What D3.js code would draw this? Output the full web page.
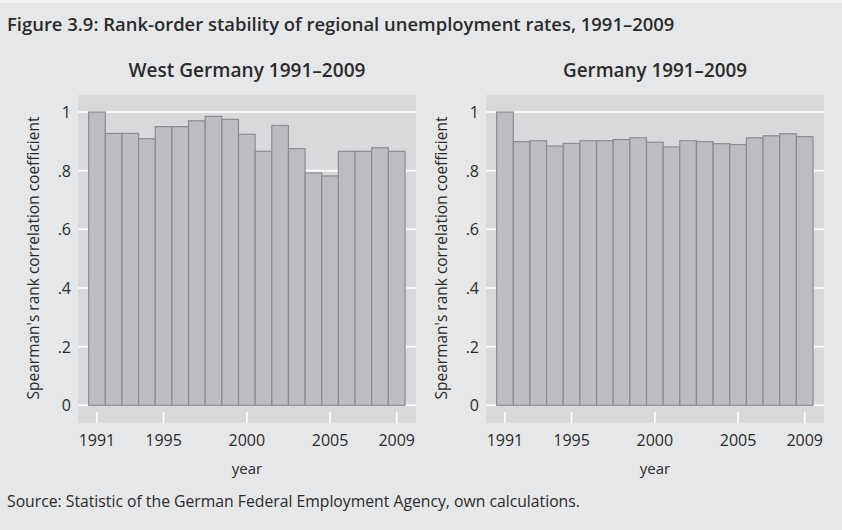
<!DOCTYPE html>
<html><head><meta charset="utf-8">
<script src="https://cdn.jsdelivr.net/npm/d3@7"></script>
<style>
html,body{margin:0;padding:0;background:#e6e7e8;}
svg{display:block;}
text{font-family:"Open Sans",Lato,sans-serif;fill:#2b2b2b;}
</style></head>
<body>
<script>
const years = d3.range(1991, 2010);
const westValues = [1.0,0.927,0.927,0.909,0.950,0.950,0.970,0.985,0.975,0.924,0.866,0.954,0.875,0.792,0.782,0.866,0.866,0.878,0.866];
const germanyValues = [1.0,0.899,0.902,0.884,0.893,0.902,0.902,0.906,0.912,0.897,0.881,0.902,0.899,0.892,0.889,0.912,0.919,0.926,0.916];
const panelTitles = ["West Germany 1991\u20132009","Germany 1991\u20132009"];
const yTicks = [0,0.2,0.4,0.6,0.8,1];
const yTickLabels = ["0",".2",".4",".6",".8","1"];
const xTicks = [1991,1995,2000,2005,2009];
const figTitle = "Figure 3.9: Rank-order stability of regional unemployment rates, 1991\u20132009";
const sourceText = "Source: Statistic of the German Federal Employment Agency, own calculations.";
const yLabel = "Spearman's rank correlation coefficient";
const xLabel = "year";

(function(){
const W = 842, H = 530;
const svg = d3.select("body").append("svg").attr("width", W).attr("height", H);
svg.append("rect").attr("width", W).attr("height", H).attr("fill", "#e6e7e8");
svg.append("rect").attr("width", W).attr("height", 3).attr("fill", "#f1f1f2");

function fit(sel, target) {
  const fs = +sel.attr("font-size");
  const w = sel.node().getComputedTextLength();
  if (w > 0) sel.attr("font-size", (fs * target / w).toFixed(2));
  return sel;
}

fit(svg.append("text").attr("x", 7).attr("y", 31)
  .attr("font-size", 15).attr("font-weight", 600).text(figTitle), 668);
fit(svg.append("text").attr("x", 7).attr("y", 507)
  .attr("font-size", 14).text(sourceText), 573);

const series = [westValues, germanyValues];
const panelLeft = [78, 486];
const pw = 338, pTop = 95, pBottom = 423;

series.forEach((vals, i) => {
  const x0 = panelLeft[i];
  const x = d3.scaleLinear().domain([1989.86, 2010.16]).range([x0, x0 + pw]);
  const y = d3.scaleLinear().domain([0, 1]).range([405.3, 112]);
  const g = svg.append("g");
  g.append("rect").attr("x", x0).attr("y", pTop).attr("width", pw).attr("height", pBottom - pTop).attr("fill", "#d8d9db");
  g.selectAll("line.grid").data(yTicks).join("line")
    .attr("x1", x0).attr("x2", x0 + pw)
    .attr("y1", d => y(d)).attr("y2", d => y(d))
    .attr("stroke", "#ffffff").attr("stroke-width", 1.6);
  g.selectAll("rect.bar").data(years.map((yr, k) => ({yr, v: vals[k]}))).join("rect")
    .attr("x", d => x(d.yr - 0.5)).attr("width", d => x(d.yr + 0.5) - x(d.yr - 0.5))
    .attr("y", d => y(d.v)).attr("height", d => y(0) - y(d.v))
    .attr("fill", "#bcbdc0").attr("stroke", "#8b8c8f").attr("stroke-width", 1.2);
  g.selectAll("line.xt").data(xTicks).join("line")
    .attr("x1", d => x(d)).attr("x2", d => x(d))
    .attr("y1", 412).attr("y2", pBottom)
    .attr("stroke", "#ffffff").attr("stroke-width", 1.6);
  g.selectAll("text.xl").data(xTicks).join("text")
    .attr("x", d => x(d)).attr("y", 446).attr("text-anchor", "middle")
    .attr("font-size", 16).text(d => d);
  g.selectAll("text.yl").data(yTicks).join("text")
    .attr("x", x0 - 7).attr("y", d => y(d) + 6).attr("text-anchor", "end")
    .attr("font-size", 16).text((d, k) => yTickLabels[k]);
  g.append("text").attr("x", x0 + pw / 2).attr("y", 474).attr("text-anchor", "middle")
    .attr("font-size", 15).text(xLabel);
  fit(g.append("text").attr("transform", `translate(${x0 - 39},258) rotate(-90)`)
    .attr("text-anchor", "middle").attr("font-size", 14).text(yLabel), 283);
  fit(g.append("text").attr("x", x0 + pw / 2).attr("y", 77).attr("text-anchor", "middle")
    .attr("font-size", 16).attr("font-weight", 600).text(panelTitles[i]), i === 0 ? 237 : 184);
});
})();
</script>
</body></html>
